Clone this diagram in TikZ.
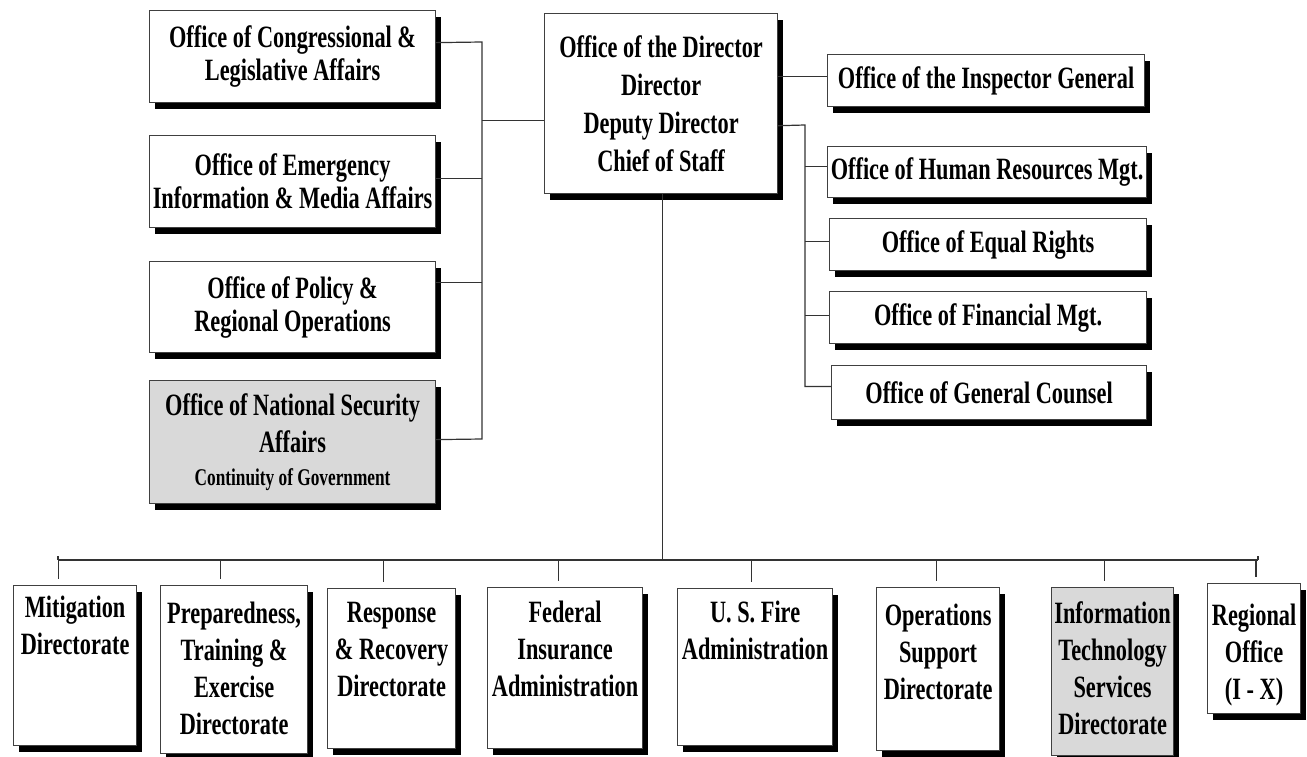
\documentclass[tikz,border=0pt]{standalone}
\usepackage{fontspec}
\setmainfont{Liberation Serif}[FakeStretch=0.72]
\usetikzlibrary{shadows,calc}
\newcommand\ptext[4]{\parbox[t][#1pt][t]{#2pt}{\centering\rule{0pt}{#3pt}#4}}
\tikzset{
  obox/.style={draw=black!75, line width=1.2pt, fill=white, inner sep=0pt,
    anchor=north west, align=center,
    drop shadow={shadow xshift=5pt, shadow yshift=-6pt, fill=black, opacity=1},
    font=\bfseries\fontsize{31}{33}\selectfont},
  lowbox/.style={obox, font=\bfseries\fontsize{31}{37}\selectfont},
  grayfill/.style={fill=black!15},
  conn/.style={draw=black!80, line width=1.2pt},
}
\begin{document}
\begin{tikzpicture}[x=1pt,y=-1pt]
\useasboundingbox (0,0) rectangle (1307,757);

% left column
\node[obox, minimum width=286pt, minimum height=92pt] (cong) at (149,10)
  {Office of Congressional \&\\Legislative Affairs};
\node[obox, minimum width=286pt, minimum height=92pt] (emer) at (149,135)
  {Office of Emergency\\Information \& Media Affairs};
\node[obox, minimum width=286pt, minimum height=91pt] (pol) at (149,261)
  {Office of Policy \&\\Regional Operations};
\node[obox, grayfill, minimum width=286pt, minimum height=123pt,
      font=\bfseries\fontsize{31}{37}\selectfont] (sec) at (149,380)
  {Office of National Security\\Affairs\\[-4pt]{\fontsize{24}{30}\selectfont Continuity of Government}};

% director
\node[obox, minimum width=233pt, minimum height=180pt,
      font=\bfseries\fontsize{31}{38}\selectfont] (dir) at (544,13)
  {Office of the Director\\Director\\Deputy Director\\Chief of Staff};

% right column
\node[obox, minimum width=317pt, minimum height=52pt] (insp) at (827,54)
  {Office of the Inspector General};
\node[obox, minimum width=319pt, minimum height=51pt] (hr) at (827,146)
  {Office of Human Resources Mgt.};
\node[obox, minimum width=317pt, minimum height=52pt] (er) at (829,218)
  {Office of Equal Rights};
\node[obox, minimum width=317pt, minimum height=52pt] (fin) at (829,291)
  {Office of Financial Mgt.};
\node[obox, minimum width=315pt, minimum height=54pt] (gc) at (831,365)
  {Office of General Counsel};

% bottom row
\node[lowbox] (mit) at (13,585) {\ptext{160}{123}{32}{Mitigation\\Directorate}};
\node[lowbox] (prep) at (160,585) {\ptext{168}{147}{38}{Preparedness,\\Training \&\\Exercise\\Directorate}};
\node[lowbox] (resp) at (327,588) {\ptext{160}{128}{34}{Response\\\& Recovery\\Directorate}};
\node[lowbox] (fed) at (487,587) {\ptext{161}{155}{35}{Federal\\Insurance\\Administration}};
\node[lowbox] (fire) at (677,588) {\ptext{157}{155}{34}{U. S. Fire\\Administration}};
\node[lowbox] (ops) at (876,587) {\ptext{163}{123}{38}{Operations\\Support\\Directorate}};
\node[lowbox, grayfill] (it) at (1051,587) {\ptext{168}{122}{36}{Information\\Technology\\Services\\Directorate}};
\node[lowbox] (reg) at (1207,583) {\ptext{130}{93}{42}{Regional\\Office\\(I - X)}};

% left spine
\coordinate (lspT) at (482,42);
\coordinate (lspB) at (482,439);
\draw[conn] ($(cong.north east)!0.35!(cong.south east)$) -- (lspT) -- (lspB)
  -- ($(sec.north east)!0.48!(sec.south east)$);
\path ($(emer.north east)!0.47!(emer.south east)$) coordinate (e1);
\draw[conn] (e1) -- (e1 -| lspT);
\path ($(pol.north east)!0.23!(pol.south east)$) coordinate (p1);
\draw[conn] (p1) -- (p1 -| lspT);
\path ($(dir.north west)!0.594!(dir.south west)$) coordinate (d1);
\draw[conn] (d1 -| lspT) -- (d1);

% right spine
\path ($(dir.north east)!0.35!(dir.south east)$) coordinate (d2);
\draw[conn] (d2) -- (d2 -| insp.west);
\path ($(dir.north east)!0.622!(dir.south east)$) coordinate (d3);
\coordinate (rsp) at (805,125);
\path ($(gc.north west)!0.39!(gc.south west)$) coordinate (g1);
\draw[conn] (d3) -- (rsp) -- (rsp |- g1) -- (g1);
\foreach \n/\f in {hr/0.39, er/0.44, fin/0.46} {
  \path ($(\n.north west)!\f!(\n.south west)$) coordinate (b1);
  \draw[conn] (b1 -| rsp) -- (b1);
}

% bottom bus
\coordinate (busL) at (58,560);
\coordinate (busR) at (1258,560);
\path ($(dir.south west)!0.506!(dir.south east)$) coordinate (dB);
\draw[conn] (dB) -- (dB |- busL);
\draw[conn] (busL) -- (busR);
\draw[conn] ([yshift=4pt]busL) -- (busL);
\draw[conn] ([yshift=4pt]busR) -- (busR);
\foreach \n/\f in {mit/0.366, prep/0.408, resp/0.4375, fed/0.458, fire/0.477, ops/0.488, it/0.434, reg/0.52} {
  \path ($(\n.north west)!\f!(\n.north east)$) coordinate (tp);
  \draw[conn] (tp |- busL) -- ([yshift=6pt]tp);
}
\end{tikzpicture}
\end{document}
